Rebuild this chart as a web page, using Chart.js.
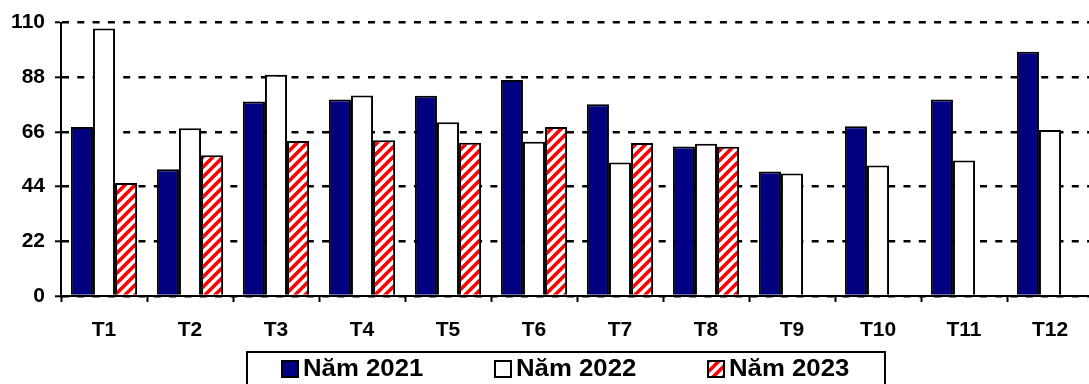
<!DOCTYPE html>
<html>
<head>
<meta charset="utf-8">
<script src="https://cdn.jsdelivr.net/npm/chart.js@4.4.1/dist/chart.umd.min.js"></script>
<style>
  html, body { margin: 0; padding: 0; background: #fff; overflow: hidden; }
  #wrap { position: absolute; left: 0; top: 0; width: 1095px; height: 384px; }
</style>
</head>
<body>
<div id="wrap"><canvas id="barChart"></canvas></div>
<script>
// Data
const months = ['T1', 'T2', 'T3', 'T4', 'T5', 'T6', 'T7', 'T8', 'T9', 'T10', 'T11', 'T12'];
const nam2021 = [68, 51, 78.3, 79.1, 80.6, 86.9, 77.1, 60.2, 50.1, 68.3, 79.1, 98.3];
const nam2022 = [107.6, 67.5, 89, 80.7, 69.9, 62.1, 53.7, 61.3, 49.3, 52.5, 54.5, 66.8];
const nam2023 = [45.5, 56.6, 62.4, 62.7, 61.7, 68, 61.6, 60, null, null, null, null];
const yTicks = [0, 22, 44, 66, 88, 110];

const FONT = '"Liberation Sans", Arial, sans-serif';

// red / white diagonal hatch for 2023
function makeHatch() {
    const s = 10;
    const c = document.createElement('canvas');
    c.width = s; c.height = s;
    const g = c.getContext('2d');
    g.fillStyle = '#fff';
    g.fillRect(0, 0, s, s);
    g.strokeStyle = '#ff0000';
    g.lineWidth = 3.6;
    g.beginPath();
    g.moveTo(0, s); g.lineTo(s, 0);
    g.moveTo(-s / 2, s / 2); g.lineTo(s / 2, -s / 2);
    g.moveTo(s / 2, s * 1.5); g.lineTo(s * 1.5, s / 2);
    g.stroke();
    return g.createPattern(c, 'repeat');
}
const hatch = makeHatch();

// legend with a frame, drawn under the x axis
const boxLegend = {
    id: 'boxLegend',
    afterDraw(chart) {
        const ctx = chart.ctx;
        ctx.save();
        ctx.strokeStyle = '#000';
        ctx.lineWidth = 2;
        ctx.strokeRect(247, 352, 638, 40);
        ctx.font = 'bold 23px ' + FONT;
        ctx.textBaseline = 'middle';
        const sw = 16, gap = 5, stretch = 1.12;
        const starts = [282, 495, 708];
        const yc = 369;
        chart.data.datasets.forEach((d, i) => {
            const x = starts[i];
            ctx.fillStyle = d.backgroundColor;
            ctx.fillRect(x, yc - sw / 2, sw, sw);
            ctx.lineWidth = 2;
            ctx.strokeRect(x, yc - sw / 2, sw, sw);
            ctx.save();
            ctx.translate(x + sw + gap, yc + 1);
            ctx.scale(stretch, 1);
            ctx.fillStyle = '#000';
            ctx.fillText(d.label, 0, 0);
            ctx.restore();
        });
        ctx.restore();
    }
};

const ctx = document.getElementById('barChart').getContext('2d');
new Chart(ctx, {
    type: 'bar',
    data: {
        labels: months,
        datasets: [
            { label: 'Năm 2021', data: nam2021, backgroundColor: '#000080' },
            { label: 'Năm 2022', data: nam2022, backgroundColor: '#ffffff' },
            { label: 'Năm 2023', data: nam2023, backgroundColor: hatch }
        ]
    },
    options: {
        responsive: true,
        maintainAspectRatio: false,
        animation: false,
        datasets: {
            bar: {
                borderColor: '#000',
                borderWidth: 2,
                barPercentage: 1,
                categoryPercentage: 0.77
            }
        },
        layout: { padding: { top: 22, right: 2, bottom: 40, left: 0 } },
        plugins: {
            legend: { display: false },
            tooltip: { enabled: false }
        },
        scales: {
            x: {
                afterFit: s => { s.height = 48; },
                grid: {
                    offset: true,
                    drawOnChartArea: false,
                    drawTicks: true,
                    tickLength: 6,
                    tickColor: '#000',
                    tickWidth: 2
                },
                border: { display: true, color: '#000', width: 2 },
                ticks: {
                    color: '#000',
                    padding: 16,
                    font: { family: FONT, size: 21, weight: 'bold' }
                }
            },
            y: {
                min: 0,
                max: 110,
                afterFit: s => { s.width = 61; },
                afterBuildTicks: s => { s.ticks = yTicks.map(v => ({ value: v })); },
                grid: {
                    color: '#000',
                    lineWidth: 2.6,
                    drawTicks: true,
                    tickLength: 6,
                    tickColor: '#000',
                    tickWidth: 2,
                    tickBorderDash: []
                },
                border: { display: true, color: '#000', width: 2, dash: [7, 8.3] },
                ticks: {
                    color: '#000',
                    padding: 10,
                    font: { family: FONT, size: 21, weight: 'bold' }
                }
            }
        }
    },
    plugins: [boxLegend]
});
</script>
</body>
</html>
